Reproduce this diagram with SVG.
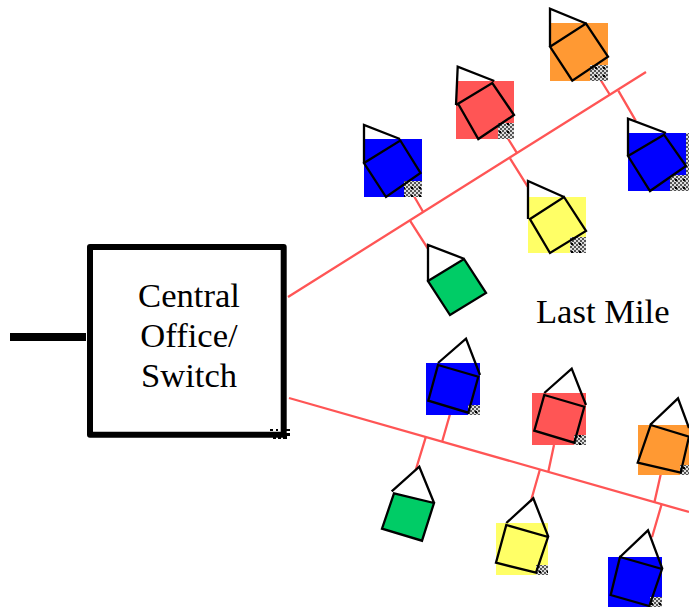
<svg xmlns="http://www.w3.org/2000/svg" width="689" height="607" viewBox="0 0 689 607">
<style>
.h{fill:none;stroke:#000;stroke-width:2.300;stroke-linejoin:miter}
.w{stroke:#f55;stroke-width:2.300;fill:none}
.t{font-family:"Liberation Serif","Times New Roman",serif;font-size:34.600px;fill:#000}
.c{fill:url(#ck)}
</style>
<defs>
<pattern id="ck" width="8" height="8" patternUnits="userSpaceOnUse">
<rect width="8" height="8" fill="#ddd"/>
<path d="M0 0h2v2H0zM4 0h2v2H4zM2 2h2v2H2zM6 2h2v2H6zM0 4h2v2H0zM4 4h2v2H4zM2 6h2v2H2zM6 6h2v2H6z" fill="#555"/>
<rect x="3" y="3" width="2" height="2" fill="#000"/>
</pattern>
</defs>
<g id="connectors">
<path class="w" d="M288 297L646 72M289 398L689 512"/>
<path class="w" d="M410 220.700L427.700 248.300M423.300 212.300L405.700 181.700M516.700 152.700L499 124M510 158.300L527.700 186.700M610 95L591.700 65.700M618.300 90.700L635.700 120.700"/>
<path class="w" d="M425.700 437.300L415.700 470M442.300 441L451.700 408.300M540 469.300L530.700 501.700M548.300 471.700L554 445M654.300 502.700L661.700 470M661.700 504L652 537.300"/>
</g>
<g id="feed"><path d="M10 337H86" stroke="#000" stroke-width="8" fill="none"/></g>
<g id="central-office">
<rect x="90" y="247" width="193.700" height="187.700" fill="none" stroke="#000" stroke-width="6" stroke-linejoin="round"/>
<path d="M270 429h3v2h-3zM276 429h2v2h-2zM286 429h4v2h-4zM286 433h4v3h-4zM273 436h3v3h-3zM278 436h3v3h-3zM283 436h4v3h-4z" fill="#000"/>
<text class="t" x="189" y="307" text-anchor="middle">Central</text>
<text class="t" x="189" y="347" text-anchor="middle">Office/</text>
<text class="t" x="189" y="387" text-anchor="middle">Switch</text>
</g>
<g id="house-orange-top">
<rect x="550" y="23" width="58" height="58" fill="#f93"/><rect class="c" x="590" y="65" width="18" height="16"/>
<path class="h" d="M550 46.700V8.700L586 23.500M550 46.700L586 23.500L608 56.700L572.300 80.700Z"/>
</g>
<g id="house-red-top">
<rect x="456" y="81" width="58" height="58" fill="#f55"/><rect class="c" x="498" y="123" width="16" height="16"/>
<path class="h" d="M456 105L457.700 66.700L494.300 81M456 105L492.300 83L514 115L478.300 139L458.700 104.700"/>
</g>
<g id="house-blue-top-left">
<rect x="364" y="139" width="58" height="58" fill="#00f"/><rect class="c" x="404" y="181" width="18" height="16"/>
<path class="h" d="M364 163V125L400 139M364 163L400.300 140.500L420.500 173L386 197Z"/>
</g>
<g id="house-blue-top-right">
<rect x="628" y="133" width="58" height="58" fill="#00f"/><rect class="c" x="670" y="175" width="19" height="16"/><rect class="c" x="686" y="133" width="3" height="42"/>
<path class="h" d="M628 156V118.700L666 133M628 156L664 134.700L686 166L650 191Z"/>
</g>
<g id="house-yellow-top">
<rect x="528" y="197" width="58" height="56" fill="#ff6"/><rect class="c" x="570" y="237" width="16" height="16"/>
<path class="h" d="M528 219V181L564 197M530 219L564 197L586 231L550 253Z"/>
</g>
<g id="house-green-top">
<path d="M428 281L464 259L486 293L450 315Z" fill="#0c6"/>
<path class="h" d="M428 281V245L464 258.700M428 281L464 259L486 293L450 315Z"/>
</g>
<g id="house-blue-bottom-1">
<rect x="426" y="363" width="54" height="52" fill="#00f"/><rect class="c" x="468" y="405" width="12" height="10"/>
<path class="h" d="M438 363L466 338.700L480 375M438 365L478.300 376.700L468.300 412.700L428.300 400.700Z"/>
</g>
<g id="house-red-bottom">
<rect x="532" y="393" width="54" height="52" fill="#f55"/><rect class="c" x="574" y="435" width="12" height="10"/>
<path class="h" d="M544.300 393L571.700 368.700L586 405M544.300 395L584.300 406.700L574.300 442.700L534.300 430.700Z"/>
</g>
<g id="house-orange-bottom">
<rect x="638" y="425" width="51" height="50" fill="#f93"/><rect class="c" x="680" y="465" width="9" height="10"/>
<path class="h" d="M650 425L678 398.300L689 428M650.700 425L689 436.700L680.700 472.700L637.700 462.700Z"/>
</g>
<g id="house-green-bottom">
<path d="M394 493.300L434 503L422 540.700L382 528.700Z" fill="#0c6"/>
<path class="h" d="M391.700 491.300L419.300 466.700L434 502.700M394 493.300L434 503L422 540.700L382 528.700Z"/>
</g>
<g id="house-yellow-bottom">
<rect x="496" y="523" width="52" height="52" fill="#ff6"/><rect class="c" x="536" y="565" width="12" height="10"/>
<path class="h" d="M506.300 523L533.300 498.300L548.300 536.700M506.300 525L548 537L536 572.700L496 562.700Z"/>
</g>
<g id="house-blue-bottom-2">
<rect x="608" y="557" width="54" height="50" fill="#00f"/><rect class="c" x="650" y="597" width="12" height="10"/>
<path class="h" d="M620 557L648 530.300L662.300 568.700M620 557L662 569L649.300 606L610.700 595Z"/>
</g>
<g id="label"><text class="t" x="536" y="323">Last Mile</text></g>
</svg>
